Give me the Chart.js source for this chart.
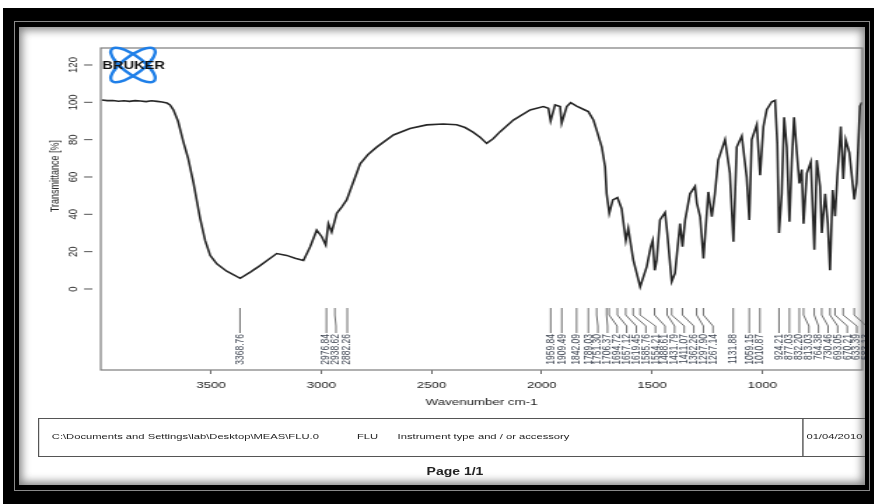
<!DOCTYPE html>
<html>
<head>
<meta charset="utf-8">
<title>FLU IR spectrum</title>
<script src="https://cdn.jsdelivr.net/npm/chart.js@4/dist/chart.umd.min.js"></script>
<style>
  html, body { margin: 0; padding: 0; background: #fff; }
  body { width: 874px; height: 504px; position: relative; overflow: hidden; font-family: "Liberation Sans", Arial, sans-serif; }
  #outer { position: absolute; left: 3px; top: 8px; width: 871px; height: 496px; background: #000; }
  #rule { position: absolute; left: 14px; top: 21px; width: 854px; height: 468px; border: 1px solid #8a8a8a; }
  #paper { position: absolute; left: 19px; top: 27px; width: 846px; height: 458px; overflow: hidden; background: #fff;
           box-shadow: inset 0 0 9px 3px rgba(50,50,50,0.6); }
  #wrap { position: absolute; left: -19px; top: -27px; width: 625px; height: 504px; transform: scaleX(1.4); transform-origin: 0 0; }
  #chart { position: absolute; left: 0; top: 0; }
  #foot { position: absolute; left: 27px; top: 418px; width: 640px; height: 37px; border: 1px solid #555; }
  #foot span { position: absolute; top: 13px; font-size: 8px; line-height: 10px; color: #222; white-space: nowrap; }
  #divider { position: absolute; left: 545px; top: 0; width: 0; height: 37px; border-left: 1px solid #555; }
  #page { position: absolute; left: 285px; width: 80px; top: 466px; text-align: center; font-size: 10px; font-weight: bold; color: #222; }
</style>
</head>
<body>
<div id="outer"></div>
<div id="rule"></div>
<div id="paper">
  <div id="wrap">
    <canvas id="chart" width="625" height="504" style="width:625px;height:504px"></canvas>
    <div id="foot">
      <span style="left:9px">C:\Documents and Settings\lab\Desktop\MEAS\FLU.0</span>
      <span style="left:227px">FLU</span>
      <span style="left:256px">Instrument type and / or accessory</span>
      <div id="divider"></div>
      <span style="left:548px">01/04/2010</span>
    </div>
    <div id="page">Page 1/1</div>
  </div>
</div>
<script>
// spectrum (wavenumber cm-1, transmittance %)
const waveNumbers = [
  3996, 3970, 3945, 3920, 3895, 3870, 3845, 3820, 3795, 3770,
  3745, 3722, 3700, 3686, 3671, 3650, 3626, 3604, 3580, 3550,
  3527, 3504, 3474, 3429, 3368, 3322, 3278, 3232, 3202, 3157,
  3119, 3081, 3051, 3021, 2998, 2980, 2968, 2953, 2930, 2907,
  2885, 2862, 2824, 2788, 2749, 2673, 2598, 2522, 2447, 2386,
  2348, 2312, 2280, 2250, 2221, 2189, 2129, 2053, 1993, 1970,
  1960, 1940, 1917, 1910, 1887, 1869, 1842, 1812, 1789, 1766,
  1751, 1728, 1713, 1706, 1694, 1678, 1657, 1638, 1627, 1619,
  1608, 1585, 1554, 1524, 1506, 1497, 1488, 1479, 1464, 1441,
  1431, 1411, 1396, 1381, 1373, 1362, 1350, 1328, 1305, 1297,
  1282, 1267, 1245, 1229, 1215, 1200, 1169, 1147, 1131, 1116,
  1093, 1071, 1059, 1048, 1025, 1010, 995, 980, 957, 942,
  932, 924, 912, 901, 889, 877, 866, 856, 844, 832,
  821, 813, 798, 780, 764, 753, 738, 730, 715, 703,
  693, 681, 670, 660, 644, 633, 622, 605, 583, 572,
  557, 548
];
const transmittance = [
  101.2, 100.9, 101.0, 100.6, 100.8, 100.5, 100.9, 100.7, 100.4, 100.8,
  100.5, 100.2, 99.6, 98.6, 96, 90, 79, 70, 57, 38,
  26, 18, 13.5, 9.5, 5.7, 9, 12.5, 16.5, 19, 18,
  16.5, 15.3, 22.5, 31.5, 28, 23.6, 35, 30.5, 40.5, 44,
  47.7, 55, 67, 72, 76, 82.5, 86, 87.9, 88.4, 88,
  86.5, 84, 81.3, 78, 80.5, 84.3, 90.5, 95.9, 97.7, 96.8,
  90, 98.6, 97.7, 88.8, 97.7, 99.8, 98, 96.3, 95, 90.5,
  85, 76, 65.5, 51, 40.5, 47.7, 49, 43, 33, 26,
  32.5, 15.5, 1.2, 12, 22.7, 26, 10, 15.5, 37, 41,
  30, 4, 8.4, 26, 35, 22.7, 37, 51, 55, 46,
  38.7, 16.4, 52, 38.7, 51, 69, 80, 62, 25.3, 76,
  82, 60, 37, 80, 88, 61, 87, 96, 100.3, 101,
  78, 30, 51, 92, 76, 36, 69, 92, 74, 56.6,
  64, 35, 62, 68, 21, 69, 55, 30, 51, 35,
  10, 53, 39, 60, 87, 59, 80, 73, 48, 57,
  98, 100
];
// picked peaks printed under the trace
const peakPositions = [
  3368.76, 2976.84, 2938.62, 2882.26,
  1959.84, 1909.49, 1842.09, 1789.03, 1751.30, 1706.37, 1694.72, 1657.12, 1619.45,
  1585.76, 1554.21, 1488.61, 1431.79, 1411.07, 1362.26, 1297.90, 1267.14,
  1131.88, 1059.15, 1010.87, 924.21, 877.03, 832.20, 813.03, 764.38, 730.46,
  693.05, 670.21, 633.39, 583.13
];
const xTicks = [3500, 3000, 2500, 2000, 1500, 1000];
const yTicks = [0, 20, 40, 60, 80, 100, 120];

const FONT = '"Liberation Sans", Arial, sans-serif';

const extras = {
  id: 'extras',
  afterDraw(chart) {
    const { ctx, chartArea: a, scales: { x, y } } = chart;
    ctx.save();

    // plot frame
    ctx.strokeStyle = '#7c7c7c';
    ctx.lineWidth = 1.2;
    ctx.strokeRect(a.left, a.top, a.right - a.left, a.bottom - a.top);

    // y ticks, rotated labels and title
    ctx.strokeStyle = '#555';
    ctx.lineWidth = 1;
    ctx.fillStyle = '#2a2a2a';
    ctx.font = '9.5px ' + FONT;
    ctx.textAlign = 'center';
    ctx.textBaseline = 'middle';
    y.ticks.forEach(t => {
      const py = y.getPixelForValue(t.value);
      ctx.beginPath();
      ctx.moveTo(a.left - 12, py);
      ctx.lineTo(a.left - 6, py);
      ctx.stroke();
      ctx.save();
      ctx.translate(a.left - 19.5, py);
      ctx.rotate(-Math.PI / 2);
      ctx.fillText(String(t.value), 0, 0);
      ctx.restore();
    });
    ctx.save();
    ctx.font = '9px ' + FONT;
    ctx.translate(a.left - 32.5, y.getPixelForValue(60.5));
    ctx.rotate(-Math.PI / 2);
    ctx.fillText('Transmittance [%]', 0, 0);
    ctx.restore();

    // peak labels
    const gap = 6.85;
    const topY = a.bottom - 62;
    let last = -Infinity;
    const sorted = peakPositions.slice().sort((p, q) => q - p);
    ctx.strokeStyle = '#6f6f6f';
    ctx.fillStyle = '#3e4552';
    ctx.font = '8.5px ' + FONT;
    ctx.textAlign = 'right';
    sorted.forEach(p => {
      const px = x.getPixelForValue(p);
      const lx = Math.max(px, last + gap);
      last = lx;
      ctx.beginPath();
      ctx.moveTo(px, topY);
      ctx.lineTo(px, topY + 7);
      ctx.lineTo(lx, topY + 18);
      ctx.lineTo(lx, topY + 25);
      ctx.stroke();
      ctx.save();
      ctx.translate(lx, topY + 26);
      ctx.rotate(-Math.PI / 2);
      ctx.fillText(p.toFixed(2), 0, 0);
      ctx.restore();
    });

    // Bruker logo
    const cx = a.left + 23, cy = a.top + 17;
    ctx.strokeStyle = '#1f7fe8';
    ctx.lineWidth = 2.4;
    [0.84, -0.84].forEach(r => {
      ctx.beginPath();
      ctx.ellipse(cx, cy, 22, 8, r, 0, Math.PI * 2);
      ctx.stroke();
    });
    ctx.fillStyle = '#111';
    ctx.font = 'bold 10.5px ' + FONT;
    ctx.textAlign = 'left';
    ctx.textBaseline = 'middle';
    ctx.fillText('BRUKER', a.left + 1, cy + 1);

    ctx.restore();
  }
};

new Chart(document.getElementById('chart'), {
  type: 'line',
  data: {
    datasets: [{
      data: waveNumbers.map((w, i) => ({ x: w, y: transmittance[i] })),
      borderColor: '#262626',
      borderWidth: 1.6,
      pointRadius: 0,
      tension: 0,
      fill: false
    }]
  },
  options: {
    responsive: false,
    animation: false,
    devicePixelRatio: 1,
    layout: { padding: { left: 0, right: 9, top: 48, bottom: 96 } },
    plugins: { legend: { display: false }, tooltip: { enabled: false } },
    scales: {
      x: {
        type: 'linear',
        reverse: true,
        min: 546,
        max: 4000,
        afterBuildTicks: s => { s.ticks = xTicks.map(v => ({ value: v })); },
        afterFit: s => { s.height = 38; },
        ticks: {
          autoSkip: false,
          maxRotation: 0,
          padding: 6,
          color: '#222',
          font: { family: FONT, size: 9.5 },
          callback: v => String(v)
        },
        grid: { drawOnChartArea: false, drawTicks: true, tickLength: 4, color: '#666' },
        border: { display: false },
        title: { display: true, text: 'Wavenumber cm-1', color: '#222', padding: 0, font: { family: FONT, size: 9.5 } }
      },
      y: {
        type: 'linear',
        min: -43.4,
        max: 129.1,
        afterBuildTicks: s => { s.ticks = yTicks.map(v => ({ value: v })); },
        afterFit: s => { s.width = 72; },
        ticks: { display: false },
        grid: { display: false },
        border: { display: false }
      }
    }
  },
  plugins: [extras]
});
</script>
</body>
</html>
